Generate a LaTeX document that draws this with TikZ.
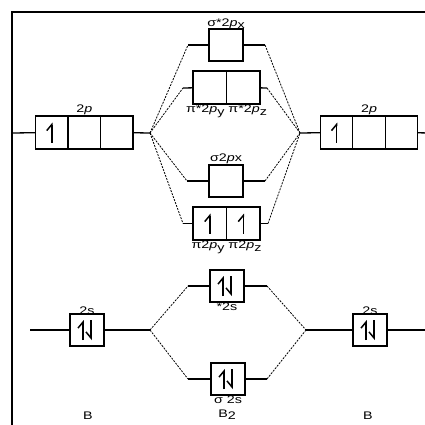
\documentclass[tikz,border=0pt]{standalone}
\usepackage{fontspec}
\setmainfont{Liberation Sans}[FakeStretch=1.3]
\usepackage{tikz}
\usetikzlibrary{arrows.meta,positioning}
\newcommand\lowsub[1]{\raisebox{-0.4ex}{#1}}
\newcommand\spinone[1]{\draw[spin,spinu] ([yshift=-10pt]#1.center) -- ([yshift=10pt]#1.center);}
\newcommand\spinpair[1]{\draw[spin,spinu] ([xshift=-4pt,yshift=-10pt]#1.center) -- ([xshift=-4pt,yshift=10pt]#1.center);
  \draw[spin,spind] ([xshift=4pt,yshift=10pt]#1.center) -- ([xshift=4pt,yshift=-10pt]#1.center);}

\begin{document}
\begin{tikzpicture}[x=1pt, y=-1pt,
  cell/.style={draw, line width=1.3pt, minimum width=32.5pt, minimum height=33pt, inner sep=0pt, outer sep=0pt},
  orb/.style={cell, minimum width=34pt, minimum height=32pt},
  lvl/.style={line width=1.3pt},
  link/.style={line width=0.8pt, dash pattern=on 2pt off 1.2pt},
  lab/.style={font=\fontsize{11}{12}\selectfont, inner sep=1pt},
  spin/.style={line width=1.5pt},
  spinu/.style={-{Straight Barb[left,length=6pt,width=10pt]}},
  spind/.style={-{Straight Barb[right,length=6pt,width=10pt]}}
]
\useasboundingbox (0,0) rectangle (425,425);
\draw[lvl] (12,440) -- (12,12) -- (440,12);

\node[cell] (lp1) at (51.75,132.5) {};
\node[cell, right=0pt of lp1] (lp2) {};
\node[cell, right=0pt of lp2] (lp3) {};
\node[cell] (rp1) at (336.5,132.5) {};
\node[cell, right=0pt of rp1] (rp2) {};
\node[cell, right=0pt of rp2] (rp3) {};
\node[orb] (sxs) at (226,45) {};
\node[cell, minimum width=33.5pt] (pis1) at (209.75,87.5) {};
\node[cell, minimum width=33.5pt, right=0pt of pis1] (pis2) {};
\node[orb] (sx) at (226,181) {};
\node[cell, minimum width=33.5pt] (pi1) at (209.75,223.5) {};
\node[cell, minimum width=33.5pt, right=0pt of pi1] (pi2) {};
\node[orb] (sss) at (227,286) {};
\node[orb] (ss) at (228,379) {};
\node[orb] (ls) at (87,330) {};
\node[orb] (rs) at (370,330) {};

\node[lab, above=0pt of lp2] (lpT) {2\textit{p}};
\node[lab, above=0pt of rp2] (rpT) {2\textit{p}};
\node[lab, above=-1pt of sxs] (sxsT) {σ*2\textit{p}\lowsub{x}};
\node[lab, below=0pt of pis1.south east] (pisT) {π*2\textit{p}\lowsub{y}\ π*2\textit{p}\lowsub{z}};
\node[lab, above=0pt of sx] (sxT) {σ2\textit{p}x};
\node[lab, below=0pt of pi1.south east] (piT) {π2\textit{p}\lowsub{y}\ π2\textit{p}\lowsub{z}};
\node[lab, below=0pt of sss] (sssT) {*2s};
\node[lab, below=0pt of ss] (ssT) {σ 2s};
\node[lab, above=-2pt of ls] (lsT) {2s};
\node[lab, above=-2pt of rs] (rsT) {2s};
\node[lab] (atomL) at (88,416) {B};
\node[lab] (mol) at (227,415) {B\lowsub{2}};
\node[lab] (atomR) at (368,416) {B};

\coordinate (lj) at (150,133); \coordinate (rj) at (300,133);
\coordinate (ljs) at (150,330); \coordinate (rjs) at (306,330);
\coordinate (lpE) at (12,133); \coordinate (rpE) at (430,133);
\coordinate (lsE) at (30,330); \coordinate (rsE) at (430,330);
\coordinate (sxs-l) at (188,45); \coordinate (sxs-r) at (265,45);
\coordinate (pis-l) at (183,88); \coordinate (pis-r) at (267,88);
\coordinate (sx-l) at (187,181); \coordinate (sx-r) at (265,181);
\coordinate (pi-l) at (183,223.5); \coordinate (pi-r) at (268,223.5);
\coordinate (sss-l) at (188,286); \coordinate (sss-r) at (267,286);
\coordinate (ss-l) at (188,379); \coordinate (ss-r) at (267,379);

\draw[lvl] (lpE) -- (lp1); \draw[lvl] (lp3) -- (lj);
\draw[lvl] (rj) -- (rp1); \draw[lvl] (rp3) -- (rpE);
\draw[lvl] (lsE) -- (ls) -- (ljs); \draw[lvl] (rjs) -- (rs) -- (rsE);
\draw[lvl] (sxs-l) -- (sxs) -- (sxs-r);
\draw[lvl] (pis-l) -- (pis1); \draw[lvl] (pis2) -- (pis-r);
\draw[lvl] (sx-l) -- (sx) -- (sx-r);
\draw[lvl] (pi-l) -- (pi1); \draw[lvl] (pi2) -- (pi-r);
\draw[lvl] (sss-l) -- (sss) -- (sss-r);
\draw[lvl] (ss-l) -- (ss) -- (ss-r);
\foreach \m in {sxs,pis,sx,pi} \draw[link] (lj) -- (\m-l) (\m-r) -- (rj);
\foreach \m in {sss,ss} \draw[link] (ljs) -- (\m-l) (\m-r) -- (rjs);

\spinone{lp1} \spinone{rp1} \spinone{pi1} \spinone{pi2}
\spinpair{ls} \spinpair{rs} \spinpair{sss} \spinpair{ss}
\end{tikzpicture}
\end{document}
